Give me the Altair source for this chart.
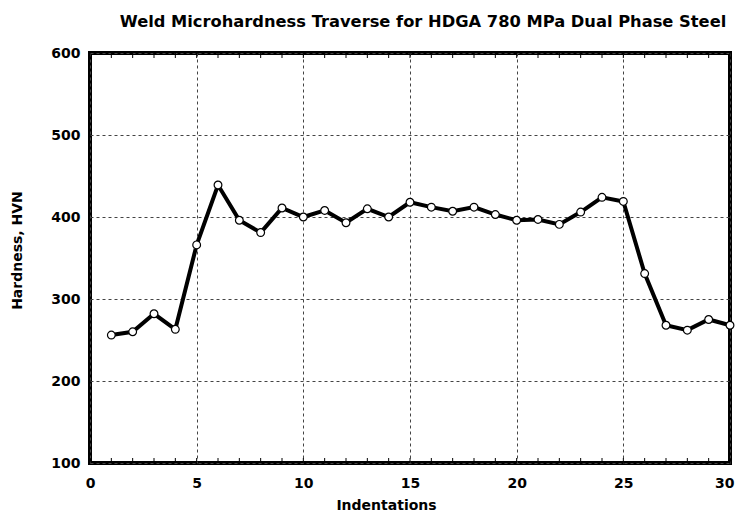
import altair as alt
import pandas as pd

indent = list(range(1, 31))
hardness = [256, 260, 282, 263, 366, 439, 396, 381, 411, 400,
            408, 393, 410, 400, 418, 412, 407, 412, 403, 396,
            397, 391, 406, 424, 419, 331, 268, 262, 275, 268]
minor_x = list(range(0, 31))

df = pd.DataFrame({"Indentations": indent, "Hardness": hardness})
mdf = pd.DataFrame({"m": minor_x})

FONT = "DejaVu Sans"
W, H = 640, 410

xscale = alt.Scale(domain=[0, 30], nice=False, zero=False)
yscale = alt.Scale(domain=[100, 600], nice=False, zero=False)

xaxis = alt.Axis(values=[0, 5, 10, 15, 20, 25, 30], title="Indentations", grid=True,
                 gridDash=[3, 3], gridColor="#444", gridWidth=1, ticks=False, domain=False,
                 labelFont=FONT, labelFontSize=14, labelFontWeight="bold", labelColor="black",
                 labelPadding=13, titleFont=FONT, titleFontSize=14, titleFontWeight="bold",
                 titleColor="black", titlePadding=8, labelFlush=False,
                 labelAlign=alt.expr("datum.value == 30 ? 'right' : 'center'"),
                 labelOffset=alt.expr("datum.value == 30 ? 4 : 0"),
                 titleX=296, titleAlign="center")
yaxis = alt.Axis(values=[100, 200, 300, 400, 500, 600], title="Hardness, HVN", grid=True,
                 gridDash=[3, 3], gridColor="#444", gridWidth=1, ticks=False, domain=False,
                 labelFont=FONT, labelFontSize=14, labelFontWeight="bold", labelColor="black",
                 labelPadding=10, titleFont=FONT, titleFontSize=14, titleFontWeight="bold",
                 titleColor="black", titlePadding=26, labelFlush=False,
                 titleY=197, titleAlign="center")

line = alt.Chart(df).mark_line(color="black", strokeWidth=4).encode(
    x=alt.X("Indentations:Q", scale=xscale, axis=xaxis),
    y=alt.Y("Hardness:Q", scale=yscale, axis=yaxis),
)
pts = alt.Chart(df).mark_point(filled=True, fill="white", stroke="black", strokeWidth=1.2,
                               size=60, opacity=1, shape="circle").encode(
    x=alt.X("Indentations:Q", scale=xscale),
    y=alt.Y("Hardness:Q", scale=yscale),
)
tick_bot = alt.Chart(mdf).mark_rule(color="black", strokeWidth=1).encode(
    x=alt.X("m:Q", scale=xscale),
    y=alt.value(H), y2=alt.value(H - 5),
)
tick_top = alt.Chart(mdf).mark_rule(color="black", strokeWidth=1).encode(
    x=alt.X("m:Q", scale=xscale),
    y=alt.value(0), y2=alt.value(5),
)

chart = alt.layer(tick_bot, tick_top, line, pts).properties(
    width=W, height=H,
    background="white",
    autosize=alt.AutoSizeParams(type="none"),
    padding={"left": 82, "top": 45, "right": 5, "bottom": 51},
    title=alt.TitleParams("Weld Microhardness Traverse for HDGA 780 MPa Dual Phase Steel",
                          font=FONT, fontSize=16.3, fontWeight="bold", color="black",
                          anchor="middle", offset=16, dx=13),
).configure_view(stroke="black", strokeWidth=4)

chart.save("out.html", embed_options={"renderer": "svg", "actions": False})
